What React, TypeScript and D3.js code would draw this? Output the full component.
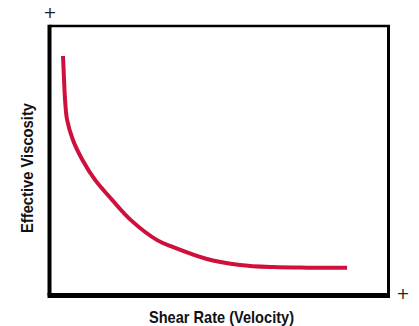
import React, { useEffect, useRef } from 'react';
import * as d3 from 'd3';

// shear rate vs. effective viscosity (arbitrary units, 0-100)
const shearRate = [4.7, 5.0, 5.3, 5.9, 7.6, 10.4, 14.1, 19.1, 24.6, 32.3, 37.0, 46.9, 56.6, 66.3, 76.2, 88.0];
const viscosity = [88.9, 80.0, 72.6, 65.2, 57.8, 50.4, 43.0, 35.6, 28.1, 20.7, 18.1, 13.7, 11.5, 10.7, 10.5, 10.5];

const xLabel = 'Shear Rate (Velocity)';
const yLabel = 'Effective Viscosity';

const App: React.FC = () => {
    const ref = useRef<SVGSVGElement | null>(null);

    useEffect(() => {
        const svg = d3.select(ref.current);
        svg.selectAll('*').remove();

        const left = 49.5, right = 388.5, top = 26, bottom = 295.5;
        const x = d3.scaleLinear().domain([0, 100]).range([47, 388]);
        const y = d3.scaleLinear().domain([0, 100]).range([296, 26]);

        const font = '"Liberation Sans", Arial, sans-serif';

        // frame: top/right thin, axes thick
        svg.append('line').attr('x1', left).attr('x2', right + 1.5).attr('y1', top).attr('y2', top)
            .attr('stroke', '#000').attr('stroke-width', 2.5);
        svg.append('line').attr('x1', right).attr('x2', right).attr('y1', top).attr('y2', bottom)
            .attr('stroke', '#000').attr('stroke-width', 3);
        svg.append('line').attr('x1', left).attr('x2', left).attr('y1', top - 1.2).attr('y2', bottom)
            .attr('stroke', '#000').attr('stroke-width', 4);
        svg.append('line').attr('x1', left - 2).attr('x2', right + 1.5).attr('y1', bottom).attr('y2', bottom)
            .attr('stroke', '#000').attr('stroke-width', 5);

        const pts = shearRate.map((s, i) => [s, viscosity[i]] as [number, number]);
        const line = d3.line<[number, number]>()
            .x(d => x(d[0]))
            .y(d => y(d[1]))
            .curve(d3.curveCatmullRom.alpha(0.5));

        svg.append('path')
            .datum(pts)
            .attr('fill', 'none')
            .attr('stroke', '#d0103c')
            .attr('stroke-width', 4)
            .attr('d', line);

        // plus markers
        svg.append('text').attr('x', 50).attr('y', 18).attr('text-anchor', 'middle')
            .attr('font-family', '"DejaVu Sans", sans-serif').attr('font-size', 16).attr('fill', '#222').text('+');
        svg.append('text').attr('x', 403).attr('y', 299).attr('text-anchor', 'middle')
            .attr('font-family', '"DejaVu Sans", sans-serif').attr('font-size', 16).attr('fill', '#222').text('+');

        svg.append('text')
            .attr('x', 149).attr('y', 323)
            .attr('textLength', 145).attr('lengthAdjust', 'spacingAndGlyphs')
            .attr('font-family', font).attr('font-weight', 'bold').attr('font-size', 17)
            .attr('fill', '#111')
            .text(xLabel);

        svg.append('text')
            .attr('transform', 'translate(33,233) rotate(-90)')
            .attr('textLength', 130).attr('lengthAdjust', 'spacingAndGlyphs')
            .attr('font-family', font).attr('font-weight', 'bold').attr('font-size', 17)
            .attr('fill', '#111')
            .text(yLabel);
    }, []);

    return <svg ref={ref} width={419} height={326} style={{ position: 'absolute', left: 0, top: 0, background: '#fff' }}></svg>;
};

export default App;
